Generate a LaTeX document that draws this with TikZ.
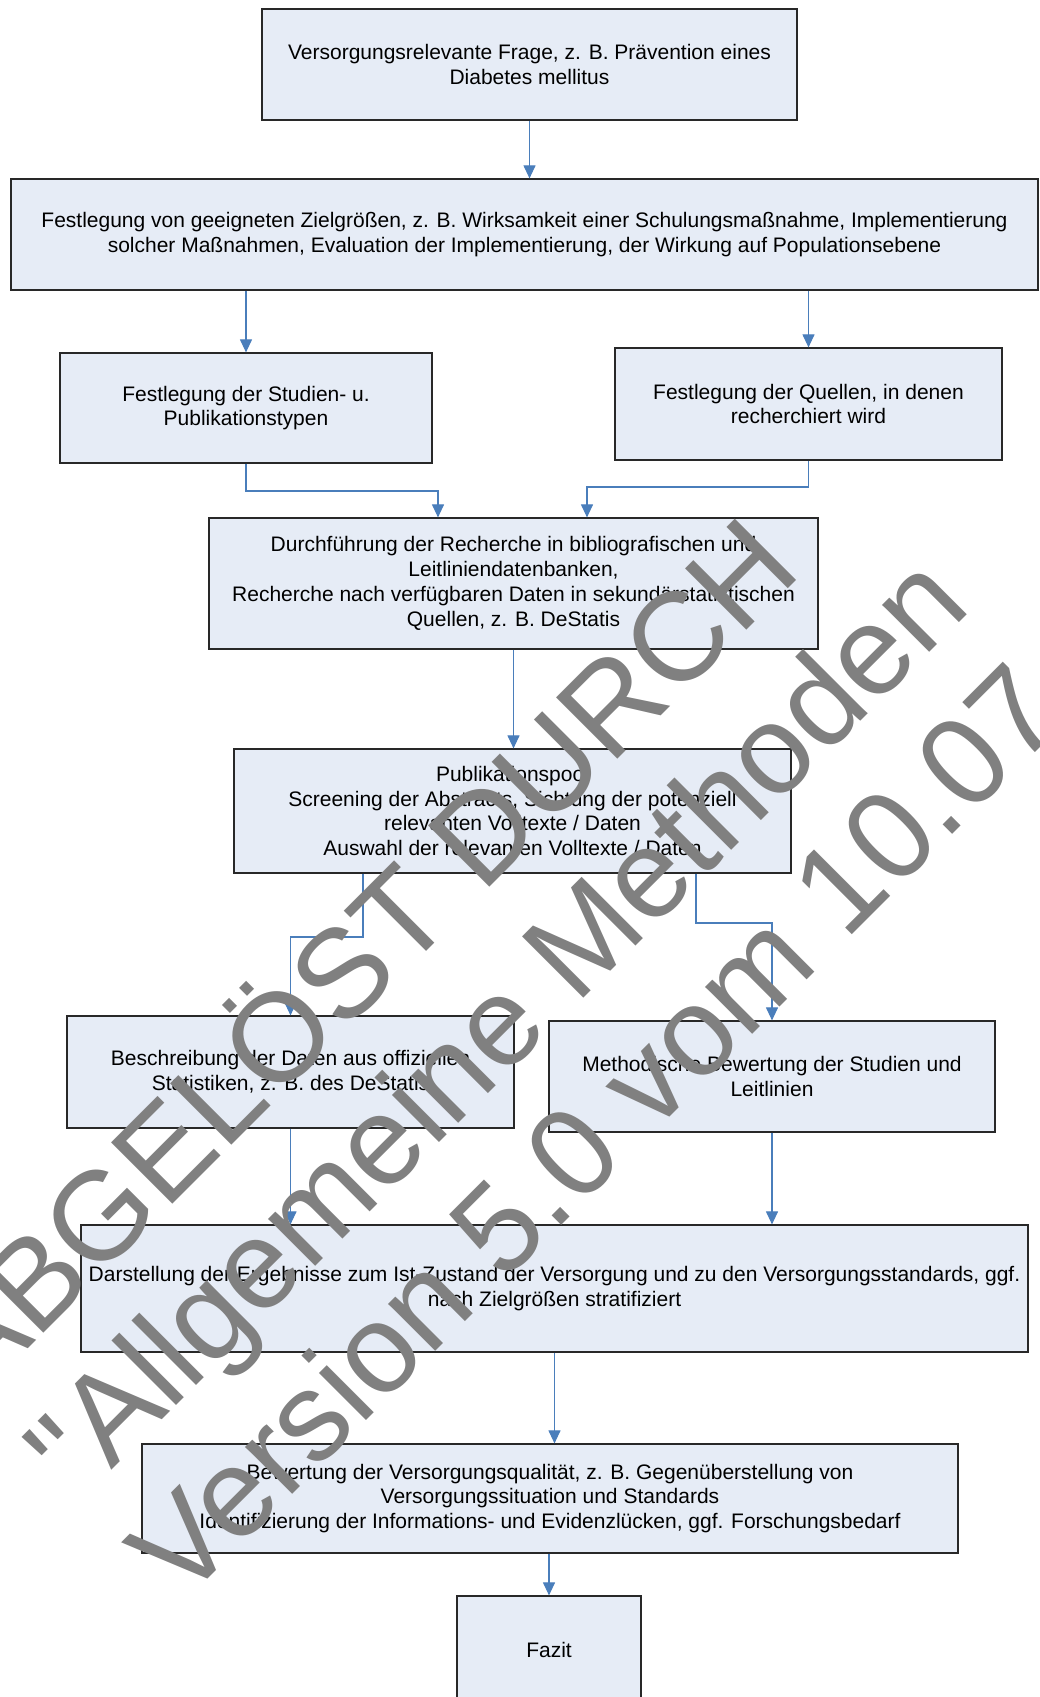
\documentclass[tikz,border=0pt]{standalone}
\usepackage{fontspec}
\setmainfont{Liberation Sans}
\newfontfamily\wmfont{Liberation Sans}[Ligatures=TeXOff]
\usetikzlibrary{arrows.meta}
\definecolor{boxfill}{RGB}{230,236,246}
\definecolor{boxline}{RGB}{40,40,40}
\definecolor{linkblue}{RGB}{74,126,187}
\definecolor{wmgray}{RGB}{128,128,128}
\begin{document}
\begin{tikzpicture}[x=1pt,y=-1pt,
  box/.style={draw=boxline, line width=1.2pt, fill=boxfill, align=center, inner sep=0pt, font=\fontsize{21}{24.8}\selectfont},
  link/.style={draw=linkblue, line width=1.1pt, -{Triangle[length=13pt,width=12pt]}},
  wm/.style={text=wmgray, font=\wmfont\fontsize{126}{145}\selectfont, inner sep=0pt, anchor=base west, rotate=45}]
\useasboundingbox (0,0) rectangle (1039,1697);
\clip (0,0) rectangle (1039,1697);

\node[box, minimum width=535pt, minimum height=111pt] (b1) at (529.5,64.5) {Versorgungsrelevante Frage, z. B. Prävention eines\\Diabetes mellitus};
\node[box, minimum width=1027pt, minimum height=111pt] (b2) at (524.5,234.5) {Festlegung von geeigneten Zielgrößen, z. B. Wirksamkeit einer Schulungsmaßnahme, Implementierung\\solcher Maßnahmen, Evaluation der Implementierung, der Wirkung auf Populationsebene};
\node[box, minimum width=372pt, minimum height=110pt] (b3) at (246,408) {Festlegung der Studien- u.\\Publikationstypen};
\node[box, minimum width=387pt, minimum height=112pt] (b4) at (808.5,404) {Festlegung der Quellen, in denen\\recherchiert wird};
\node[box, minimum width=609pt, minimum height=131pt] (b5) at (513.5,583.5) {Durchführung der Recherche in bibliografischen und\\Leitliniendatenbanken,\\Recherche nach verfügbaren Daten in sekundärstatistischen\\Quellen, z. B. DeStatis};
\node[box, minimum width=557pt, minimum height=124pt] (b6) at (512.5,811) {Publikationspool\\Screening der Abstracts, Sichtung der potenziell\\relevanten Volltexte / Daten\\Auswahl der relevanten Volltexte / Daten};
\node[box, minimum width=447pt, minimum height=112pt] (b7) at (290.5,1072) {Beschreibung der Daten aus offiziellen\\Statistiken, z. B. des DeStatis};
\node[box, minimum width=446pt, minimum height=111pt] (b8) at (772,1076.5) {Methodische Bewertung der Studien und\\Leitlinien};
\node[box, minimum width=947pt, minimum height=127pt] (b9) at (554.5,1288.5) {Darstellung der Ergebnisse zum Ist-Zustand der Versorgung und zu den Versorgungsstandards, ggf.\\nach Zielgrößen stratifiziert};
\node[box, minimum width=816pt, minimum height=109pt] (b10) at (550,1498.5) {Bewertung der Versorgungsqualität, z. B. Gegenüberstellung von\\Versorgungssituation und Standards\\Identifizierung der Informations- und Evidenzlücken, ggf. Forschungsbedarf};
\node[box, minimum width=184pt, minimum height=108pt] (b11) at (549,1650) {Fazit};

\coordinate (j1) at (438,491);
\coordinate (j2) at (587,487);
\coordinate (k1) at (363,937);
\coordinate (k2) at (696,923);

\draw[link] (b1.south) -- (b1.south |- b2.north);
\draw[link] (b2.south -| b3.north) -- (b3.north);
\draw[link] (b2.south -| b4.north) -- (b4.north);
\draw[link] (b3.south) |- (j1) -- (j1 |- b5.north);
\draw[link] (b4.south) |- (j2) -- (j2 |- b5.north);
\draw[link] (b5.south) -- (b5.south |- b6.north);
\draw[link] (k1 |- b6.south) -- (k1) -| (b7.north);
\draw[link] (k2 |- b6.south) -- (k2) -| (b8.north);
\draw[link] (b7.south) -- (b7.south |- b9.north);
\draw[link] (b8.south) -- (b8.south |- b9.north);
\draw[link] (b9.south) -- (b9.south |- b10.north);
\draw[link] (b11.north |- b10.south) -- (b11.north);

\node[wm] (wm1) at (-23,1400) {ABGELÖST DURCH};
\node[wm] (wm2) at (79.5,1502.5) {"Allgemeine Methoden};
\node[wm] (wm3) at (182,1605) {Version 5.0 vom 10.07.2017"};
\end{tikzpicture}
\end{document}
